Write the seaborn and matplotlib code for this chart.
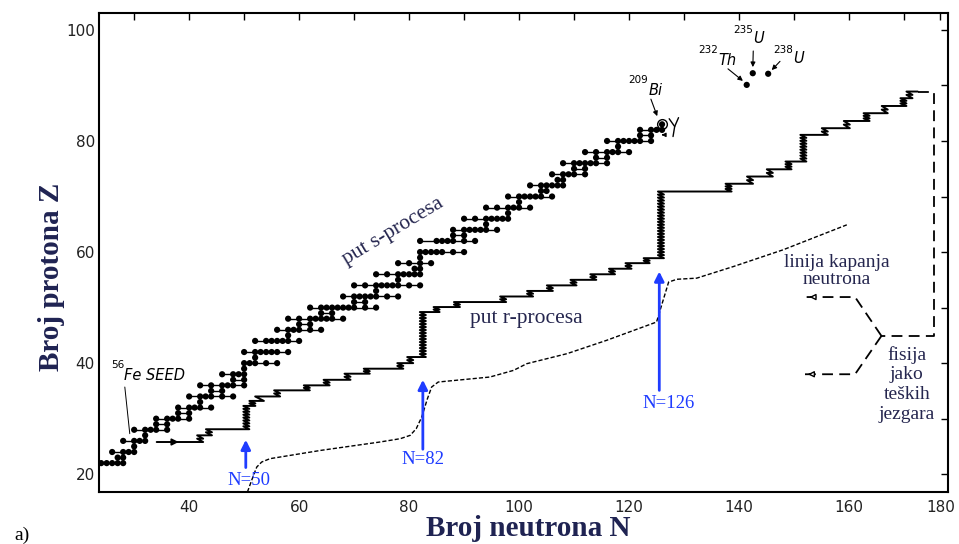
import numpy as np
import pandas as pd
import seaborn as sns
import matplotlib.pyplot as plt

# stable nuclei (dots of the s-process band): proton number and the neutron numbers of each element
stable_Z = [22, 23, 24, 25, 26, 27, 28, 29, 30, 31, 32, 33, 34, 35, 36, 37, 38, 39, 40, 41,
            42, 44, 45, 46, 47, 48, 49, 50, 51, 52, 53, 54, 55, 56, 57, 58, 59, 60, 62, 63,
            64, 65, 66, 67, 68, 69, 70, 71, 72, 73, 74, 75, 76, 77, 78, 79, 80, 81, 82, 83]
stable_N = [
    [24, 25, 26, 27, 28], [27, 28], [26, 28, 29, 30], [30], [28, 30, 31, 32], [32],
    [30, 32, 33, 34, 36], [34, 36], [34, 36, 37, 38, 40], [38, 40], [38, 40, 41, 42, 44], [42],
    [40, 42, 43, 44, 46, 48], [44, 46], [42, 44, 46, 47, 48, 50], [48, 50], [46, 48, 49, 50], [50],
    [50, 51, 52, 54, 56], [52], [50, 52, 53, 54, 55, 56, 58], [52, 54, 55, 56, 57, 58, 60], [58],
    [56, 58, 59, 60, 62, 64], [60, 62], [58, 60, 62, 63, 64, 65, 66, 68], [64, 66],
    [62, 64, 65, 66, 67, 68, 69, 70, 72, 74], [70, 72], [68, 70, 71, 72, 73, 74, 76, 78], [74],
    [70, 72, 74, 75, 76, 77, 78, 80, 82], [78], [74, 76, 78, 79, 80, 81, 82], [81, 82],
    [78, 80, 82, 84], [82], [82, 83, 84, 85, 86, 88, 90], [82, 85, 86, 87, 88, 90, 92], [88, 90],
    [88, 90, 91, 92, 93, 94, 96], [94], [90, 92, 94, 95, 96, 97, 98], [98],
    [94, 96, 98, 99, 100, 102], [100], [98, 100, 101, 102, 103, 104, 106], [104, 105],
    [102, 104, 105, 106, 107, 108], [107, 108], [106, 108, 109, 110, 112], [110, 112],
    [108, 110, 111, 112, 113, 114, 116], [114, 116], [112, 114, 116, 117, 118, 120], [118],
    [116, 118, 119, 120, 121, 122, 124], [122, 124], [122, 124, 125, 126], [126],
]

# r-process path: start, then the N of each step and the Z reached after it
r_start_N, r_start_Z = 34.1, 25.8
r_step_N = [42.0, 43.6, 50.4, 51.5, 52.8, 56.0, 61.4, 65.0, 68.8, 72.3, 78.4, 80.2, 82.5,
            85.0, 88.7, 97.1, 102.0, 105.6, 109.9, 113.5, 116.9, 119.9, 123.2, 125.8,
            138.1, 142.0, 145.6, 149.0, 151.7, 155.6, 159.6, 163.2, 166.5, 169.9, 171.0]
r_step_Z = [27.0, 28.1, 32.3, 33.2, 34.0, 35.1, 36.0, 37.0, 38.1, 39.0, 40.0, 41.1, 49.2,
            50.1, 51.0, 52.0, 53.0, 54.0, 55.0, 56.0, 57.0, 58.0, 58.9, 70.9,
            72.3, 73.6, 74.9, 76.3, 81.1, 82.3, 83.6, 85.0, 86.3, 87.7, 88.9]
r_end_N = 172.5

# neutron drip line
drip_N = [50.6, 51.7, 52.3, 53.2, 54.7, 64.0, 74.7, 78.4, 80.2, 81.3, 82.3, 83.3, 84.1, 85.3,
          94.7, 99.0, 101.4, 108.7, 115.9, 125.0, 127.2, 128.7, 132.3, 139.0, 148.0, 159.6]
drip_Z = [16.8, 19.8, 21.3, 22.2, 22.8, 24.3, 25.8, 26.4, 27.0, 28.2, 30.3, 33.5, 35.7, 36.6,
          37.5, 38.7, 39.9, 41.7, 44.1, 47.4, 54.6, 55.1, 55.3, 57.4, 60.4, 64.9]

# fission of very heavy nuclei (dashed)
fis_N = [172.5, 175.5, 175.5, 165.9]
fis_Z = [88.9, 88.9, 44.9, 44.9]
fis_up_N = [165.9, 161.1, 152.3]
fis_up_Z = [44.9, 51.9, 51.9]
fis_lo_N = [165.9, 161.1, 152.0]
fis_lo_Z = [44.9, 38.0, 38.0]

# heavy isotopes marked at top
heavy_N = [141.4, 142.5, 145.3]
heavy_Z = [90.1, 92.2, 92.1]

# magic-number arrows: label, arrow x, arrow bottom, arrow tip, label position
magic_labels = ['N=50', 'N=82', 'N=126']
magic_x = [50.3, 82.5, 125.5]
magic_base = [20.7, 24.0, 34.6]
magic_tip = [26.7, 37.5, 57.0]
magic_text_N = [50.8, 82.6, 127.2]
magic_text_Z = [18.9, 22.6, 32.7]

navy = '#25264f'
blue = '#1f3cff'


def zigzag(start_n, start_z, steps_n, steps_z, end_n):
    xs, ys = [start_n], [start_z]
    z = start_z
    for n, z_new in zip(steps_n, steps_z):
        k = max(1, int(round((z_new - z) / 0.55)))
        w = 0.8 if k == 1 else 0.55
        h = (z_new - z) / k
        for i in range(k):
            xs += [n + w, n - w]
            ys += [z + i * h, z + (i + 1) * h]
        z = z_new
    xs.append(end_n)
    ys.append(z)
    return xs, ys


sns.set_style('white')
plt.rcParams['font.family'] = ['DejaVu Sans']

fig = plt.figure(figsize=(9.59, 5.44), dpi=100)
ax = fig.add_axes([0.1032, 0.0956, 0.8853, 0.8811])

# s-process dots and row links
rows = pd.DataFrame([(n, z) for z, ns in zip(stable_Z, stable_N) for n in ns], columns=['N', 'Z'])
sns.lineplot(data=rows, x='N', y='Z', units='Z', estimator=None, sort=False,
             color='black', lw=1.0, ax=ax)
sns.scatterplot(data=rows, x='N', y='Z', s=20, color='black', edgecolor='none', ax=ax)

# r-process path
rx, ry = zigzag(r_start_N, r_start_Z, r_step_N, r_step_Z, r_end_N)
sns.lineplot(x=rx, y=ry, sort=False, estimator=None, color='black', lw=1.4, ax=ax)
ax.annotate('', xy=(38.6, r_start_Z), xytext=(36.5, r_start_Z),
            arrowprops=dict(arrowstyle='-|>', color='black', lw=1.2, mutation_scale=10))

# drip line
sns.lineplot(x=drip_N, y=drip_Z, sort=False, estimator=None, color='black', lw=1.0,
             linestyle=(0, (3, 1.5)), ax=ax)

# fission lines
sns.lineplot(x=fis_N, y=fis_Z, sort=False, estimator=None, color='black', lw=1.3,
             linestyle=(0, (6, 3.5)), ax=ax)
for fn, fz in [(fis_up_N, fis_up_Z), (fis_lo_N, fis_lo_Z)]:
    sns.lineplot(x=fn, y=fz, sort=False, estimator=None, color='black', lw=1.3,
                 linestyle=(0, (6, 3.5)), ax=ax)
    ax.annotate('', xy=(fn[-1], fz[-1]), xytext=(fn[-1] + 1.5, fz[-1]),
                arrowprops=dict(arrowstyle='-|>', color='black', fc='white', lw=1.0,
                                mutation_scale=9))

# heavy isotopes
sns.scatterplot(x=heavy_N, y=heavy_Z, s=20, color='black', edgecolor='none', ax=ax)
ax.plot([126], [83], 'o', ms=7, mfc='none', mec='black', mew=1.0)

iso_kw = dict(fontsize=10.5, style='italic', color='black', va='baseline')
sup_kw = dict(fontsize=7.5, color='black', va='baseline', ha='right')
for txt, sup, n, z, zs in [('Bi', '209', 123.5, 88.3, 90.5), ('Th', '232', 136.2, 93.7, 95.9),
                           ('U', '235', 142.5, 97.7, 99.5), ('U', '238', 149.8, 94.1, 95.9),
                           ('Fe SEED', '56', 28.2, 36.9, 39.1)]:
    ax.text(n, z, txt, ha='left', **iso_kw)
    ax.text(n, zs, sup, **sup_kw)

for tail, head in [((123.8, 88.0), (125.3, 84.0)), ((137.6, 93.3), (141.1, 90.5)),
                   ((142.6, 96.7), (142.5, 92.8)), ((147.8, 94.7), (145.6, 92.4))]:
    ax.annotate('', xy=head, xytext=tail,
                arrowprops=dict(arrowstyle='-|>', color='black', lw=0.8, mutation_scale=7))
ax.plot([28.3, 29.2], [35.7, 27.3], color='black', lw=0.7)
ax.plot([127.3, 128.3, 128.0], [84.0, 82.6, 80.8], color='black', lw=1.0)
ax.plot([129.0, 128.3], [84.2, 82.6], color='black', lw=1.0)
ax.annotate('', xy=(125.4, 81.1), xytext=(126.8, 81.1),
            arrowprops=dict(arrowstyle='-|>', color='black', lw=0.8, mutation_scale=6))

# magic numbers
for lab, x, b, t, tn, tz in zip(magic_labels, magic_x, magic_base, magic_tip,
                                magic_text_N, magic_text_Z):
    ax.annotate('', xy=(x, t), xytext=(x, b),
                arrowprops=dict(arrowstyle='-|>', color=blue, lw=2.0, mutation_scale=14))
    ax.text(tn, tz, lab, color=blue, fontsize=13.5, family='Liberation Serif',
            ha='center', va='center')

# labels
ax.text(77.1, 63.7, 'put s-procesa', rotation=31, color=navy, fontsize=15.5,
        family='Liberation Serif', ha='center', va='center', rotation_mode='anchor')
ax.text(101.4, 48.1, 'put r-procesa', color=navy, fontsize=15.5,
        family='Liberation Serif', ha='center', va='center')
ax.text(157.8, 56.6, 'linija kapanja\nneutrona', color=navy, fontsize=14,
        family='Liberation Serif', ha='center', va='center', linespacing=1.0)
ax.text(170.5, 36.2, 'fisija\njako\nteških\njezgara', color=navy, fontsize=14,
        family='Liberation Serif', ha='center', va='center', linespacing=1.2)

# axes
ax.set_xlim(23.6, 178)
ax.set_ylim(16.8, 103.1)
ax.set_xticks([40, 60, 80, 100, 120, 140, 160, 176.6])
ax.set_xticklabels(['40', '60', '80', '100', '120', '140', '160', '180'])
ax.set_xticks(np.arange(30, 171, 20), minor=True)
ax.set_yticks([20, 40, 60, 80, 100])
ax.set_yticks(np.arange(30, 91, 20), minor=True)
ax.tick_params(which='both', direction='in', length=5, width=1.0, top=True, right=True,
               labelsize=11, labelcolor='#222222', color='black')
ax.tick_params(axis='x', pad=6)
ax.tick_params(axis='y', pad=3)
ax.set_xlabel('')
ax.set_ylabel('')
for sp in ax.spines.values():
    sp.set_color('black')
    sp.set_linewidth(1.5)

fig.text(0.054, 0.491, 'Broj protona Z', rotation=90, ha='center', va='center',
         fontsize=21, fontweight='bold', family='Liberation Serif', color='#1f2352')
fig.text(0.5506, 0.0294, 'Broj neutrona N', ha='center', va='center',
         fontsize=21, fontweight='bold', family='Liberation Serif', color='#1f2352')
fig.text(0.023, 0.0165, 'a)', ha='center', va='center', fontsize=14,
         family='Liberation Serif', color='black')

fig.savefig('out.png', dpi=100)
